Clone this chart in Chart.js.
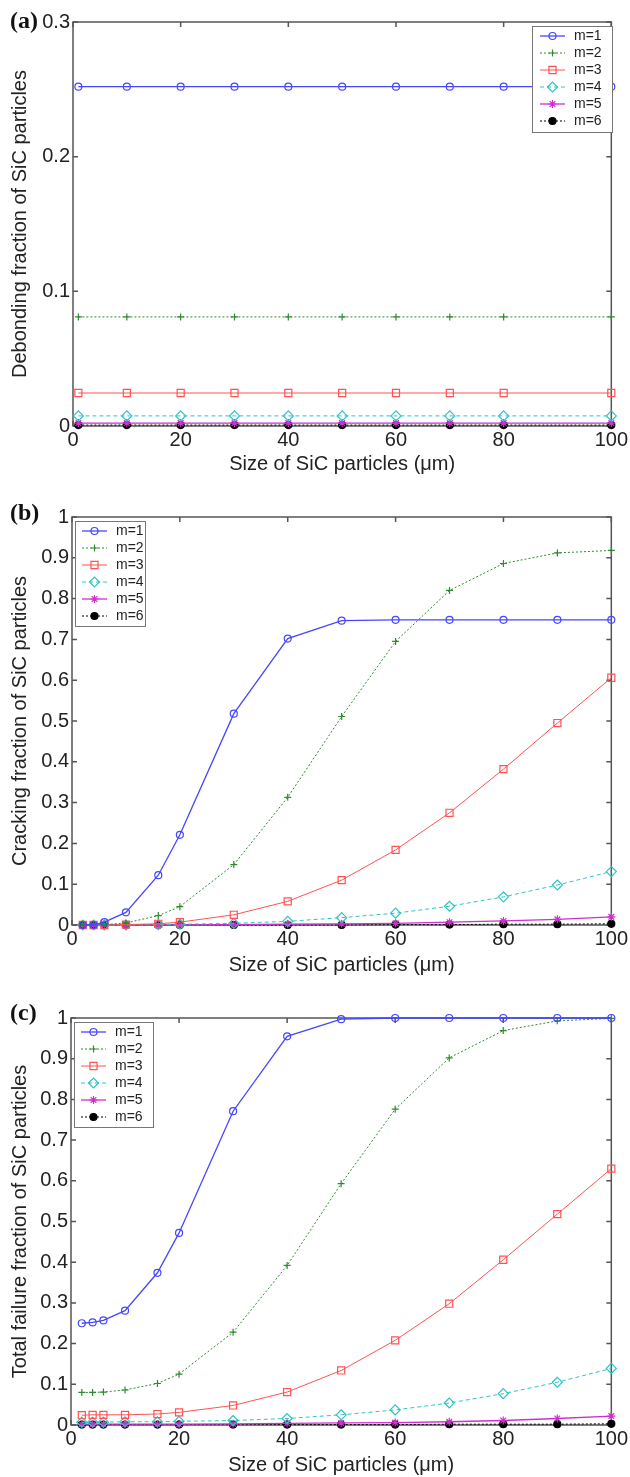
<!DOCTYPE html>
<html>
<head>
<meta charset="utf-8">
<script src="https://cdn.jsdelivr.net/npm/chart.js@4.4.1/dist/chart.umd.min.js"></script>
<style>
  body { margin: 0; background: #fff; }
  canvas { display: block; }
</style>
</head>
<body>
<canvas id="chartA" width="630" height="478"></canvas>
<canvas id="chartB" width="630" height="500"></canvas>
<canvas id="chartC" width="630" height="499"></canvas>
<script>
// series names
var seriesNames = ['m=1', 'm=2', 'm=3', 'm=4', 'm=5', 'm=6'];

// particle sizes (um)
var sizeA = [1, 10, 20, 30, 40, 50, 60, 70, 80, 100];
var sizeBC = [2, 4, 6, 10, 16, 20, 30, 40, 50, 60, 70, 80, 90, 100];

// (a) debonding fraction
var debondM1 = [0.252, 0.252, 0.252, 0.252, 0.252, 0.252, 0.252, 0.252, 0.252, 0.252];
var debondM2 = [0.081, 0.081, 0.081, 0.081, 0.081, 0.081, 0.081, 0.081, 0.081, 0.081];
var debondM3 = [0.0245, 0.0245, 0.0245, 0.0245, 0.0245, 0.0245, 0.0245, 0.0245, 0.0245, 0.0245];
var debondM4 = [0.0075, 0.0075, 0.0075, 0.0075, 0.0075, 0.0075, 0.0075, 0.0075, 0.0075, 0.0075];
var debondM5 = [0.0022, 0.0022, 0.0022, 0.0022, 0.0022, 0.0022, 0.0022, 0.0022, 0.0022, 0.0022];
var debondM6 = [0.0007, 0.0007, 0.0007, 0.0007, 0.0007, 0.0007, 0.0007, 0.0007, 0.0007, 0.0007];

// (b) cracking fraction
var crackM1 = [0, 0, 0.007, 0.031, 0.122, 0.221, 0.518, 0.702, 0.746, 0.748, 0.748, 0.748, 0.748, 0.748];
var crackM2 = [0, 0, 0.001, 0.005, 0.023, 0.045, 0.148, 0.313, 0.511, 0.695, 0.820, 0.886, 0.912, 0.918];
var crackM3 = [0, 0, 0, 0.001, 0.003, 0.007, 0.025, 0.058, 0.110, 0.184, 0.275, 0.382, 0.495, 0.606];
var crackM4 = [0, 0, 0, 0, 0.001, 0.002, 0.004, 0.009, 0.018, 0.029, 0.046, 0.069, 0.098, 0.131];
var crackM5 = [0, 0, 0, 0, 0, 0, 0.001, 0.002, 0.003, 0.004, 0.007, 0.010, 0.014, 0.020];
var crackM6 = [0, 0, 0, 0, 0, 0, 0, 0, 0, 0.001, 0.001, 0.002, 0.002, 0.003];

// (c) total failure fraction
var totalM1 = [0.250, 0.252, 0.257, 0.281, 0.374, 0.472, 0.771, 0.955, 0.997, 1.0, 1.0, 1.0, 1.0, 1.0];
var totalM2 = [0.080, 0.080, 0.081, 0.086, 0.102, 0.125, 0.228, 0.392, 0.593, 0.776, 0.902, 0.969, 0.993, 0.999];
var totalM3 = [0.024, 0.025, 0.025, 0.025, 0.027, 0.031, 0.048, 0.081, 0.134, 0.208, 0.298, 0.406, 0.518, 0.630];
var totalM4 = [0.007, 0.007, 0.007, 0.008, 0.008, 0.009, 0.011, 0.016, 0.025, 0.037, 0.054, 0.077, 0.105, 0.139];
var totalM5 = [0.002, 0.002, 0.002, 0.002, 0.002, 0.002, 0.003, 0.004, 0.005, 0.006, 0.008, 0.011, 0.016, 0.022];
var totalM6 = [0.001, 0.001, 0.001, 0.001, 0.001, 0.001, 0.001, 0.001, 0.001, 0.001, 0.002, 0.002, 0.002, 0.003];

// styles (MATLAB-ish)
var lineColors = ['#4646ff', '#2e8b2e', '#ff5252', '#2ec4c4', '#d02ed0', '#000000'];
var lineWidths = [1.3, 1, 1, 1, 1.3, 1];
var lineDashes = [[], [2, 2], [], [4, 3], [], [2, 2]];
var markers = ['circle', 'cross', 'rect', 'rectRot', 'star', 'circle'];
var markerSize = [3.5, 3.5, 5, 5, 4, 3.5];
var markerFill = ['rgba(0,0,0,0)', 'rgba(0,0,0,0)', 'rgba(0,0,0,0)', 'rgba(0,0,0,0)', '#d02ed0', '#000000'];

var FONT = '"Liberation Sans", Arial, sans-serif';
var xTitle = 'Size of SiC particles (\u03bcm)';

// box + inward ticks on all four sides
var boxPlugin = {
  id: 'matlabBox',
  beforeDatasetsDraw: function (chart) {
    var ctx = chart.ctx, a = chart.chartArea, x = chart.scales.x, y = chart.scales.y;
    ctx.save();
    ctx.strokeStyle = '#555';
    ctx.lineWidth = 1.5;
    ctx.strokeRect(a.left, a.top, a.right - a.left, a.bottom - a.top);
    ctx.beginPath();
    x.ticks.forEach(function (t) {
      var px = x.getPixelForValue(t.value);
      ctx.moveTo(px, a.bottom); ctx.lineTo(px, a.bottom - 5);
      ctx.moveTo(px, a.top); ctx.lineTo(px, a.top + 5);
    });
    y.ticks.forEach(function (t) {
      var py = y.getPixelForValue(t.value);
      ctx.moveTo(a.left, py); ctx.lineTo(a.left + 5, py);
      ctx.moveTo(a.right, py); ctx.lineTo(a.right - 5, py);
    });
    ctx.stroke();
    ctx.restore();
  }
};

var legendPlugin = {
  id: 'panelLegend',
  afterDraw: function (chart, args, o) {
    var ctx = chart.ctx;
    ctx.save();
    ctx.fillStyle = '#fff';
    ctx.fillRect(o.x, o.y, o.w, o.h);
    ctx.strokeStyle = '#777';
    ctx.lineWidth = 1;
    ctx.strokeRect(o.x + 0.5, o.y + 0.5, o.w, o.h);
    ctx.font = '14px ' + FONT;
    ctx.textBaseline = 'middle';
    ctx.textAlign = 'left';
    chart.data.datasets.forEach(function (ds, i) {
      var cy = o.y + o.first + i * o.row;
      ctx.strokeStyle = ds.borderColor;
      ctx.lineWidth = ds.borderWidth;
      ctx.setLineDash(ds.borderDash);
      ctx.beginPath();
      ctx.moveTo(o.lx0, cy); ctx.lineTo(o.lx1, cy);
      ctx.stroke();
      ctx.setLineDash([]);
      ctx.fillStyle = ds.pointBackgroundColor;
      ctx.strokeStyle = ds.pointBorderColor;
      ctx.lineWidth = ds.pointBorderWidth;
      Chart.helpers.drawPoint(ctx, { pointStyle: ds.pointStyle, radius: ds.pointRadius, borderWidth: ds.pointBorderWidth, rotation: 0 }, (o.lx0 + o.lx1) / 2, cy);
      ctx.fillStyle = '#222';
      ctx.fillText(ds.label, o.tx, cy);
    });
    ctx.restore();
  }
};

var tagPlugin = {
  id: 'panelTag',
  afterDraw: function (chart, args, o) {
    var ctx = chart.ctx;
    ctx.save();
    ctx.font = 'bold 24px "Liberation Serif", "Times New Roman", serif';
    ctx.fillStyle = '#111';
    ctx.textBaseline = 'middle';
    ctx.fillText(o.text, o.x, o.y);
    ctx.restore();
  }
};

function makeChart(id, cfg) {
  var ctx = document.getElementById(id).getContext('2d');
  var H = ctx.canvas.height;
  var sets = cfg.sets.map(function (ys, i) {
    return {
      label: seriesNames[i],
      data: cfg.xs.map(function (x, j) { return { x: x, y: ys[j] }; }),
      borderColor: lineColors[i],
      borderWidth: lineWidths[i],
      borderDash: lineDashes[i],
      pointStyle: markers[i],
      pointRadius: markerSize[i],
      pointHoverRadius: markerSize[i],
      pointBorderColor: lineColors[i],
      pointBackgroundColor: markerFill[i],
      pointBorderWidth: 1.2,
      fill: false,
      tension: 0,
      clip: false
    };
  });
  return new Chart(ctx, {
    type: 'line',
    data: { datasets: sets },
    options: {
      responsive: false,
      animation: false,
      events: [],
      layout: { padding: { top: cfg.area.top, right: 630 - cfg.area.right, left: 0, bottom: 0 } },
      scales: {
        x: {
          type: 'linear', min: 0, max: 100,
          ticks: { stepSize: 20, padding: 2, color: '#222', font: { family: FONT, size: 20 } },
          grid: { display: false, drawTicks: false },
          border: { display: false },
          title: { display: true, text: xTitle, color: '#222', font: { family: FONT, size: 20 }, padding: { top: 0, bottom: cfg.xTitlePad } },
          afterFit: function (s) { s.height = H - cfg.area.bottom; }
        },
        y: {
          type: 'linear', min: 0, max: cfg.yMax,
          ticks: {
            stepSize: 0.1, padding: 3, color: '#222', font: { family: FONT, size: 20 },
            callback: function (v) { return String(+v.toFixed(2)); }
          },
          grid: { display: false, drawTicks: false },
          border: { display: false },
          title: { display: true, text: cfg.yTitle, color: '#222', font: { family: FONT, size: 20 }, padding: { top: 8, bottom: 0 } },
          afterFit: function (s) { s.width = cfg.area.left; }
        }
      },
      plugins: {
        legend: { display: false },
        tooltip: { enabled: false },
        panelLegend: cfg.legend,
        panelTag: cfg.tag
      }
    },
    plugins: [boxPlugin, legendPlugin, tagPlugin]
  });
}

makeChart('chartA', {
  xs: sizeA,
  sets: [debondM1, debondM2, debondM3, debondM4, debondM5, debondM6],
  yMax: 0.3,
  yTitle: 'Debonding fraction of SiC particles',
  area: { left: 73, right: 614, top: 22, bottom: 426 },
  xTitlePad: 2,
  legend: { x: 532, y: 26, w: 80, h: 106, first: 10, row: 17, lx0: 540, lx1: 565, tx: 574 },
  tag: { text: '(a)', x: 10, y: 22 }
});

makeChart('chartB', {
  xs: sizeBC,
  sets: [crackM1, crackM2, crackM3, crackM4, crackM5, crackM6],
  yMax: 1,
  yTitle: 'Cracking fraction of SiC particles',
  area: { left: 72, right: 615, top: 39, bottom: 447 },
  xTitlePad: 1,
  legend: { x: 75, y: 43, w: 70, h: 105, first: 10, row: 17, lx0: 82, lx1: 107, tx: 116 },
  tag: { text: '(b)', x: 10, y: 36 }
});

makeChart('chartC', {
  xs: sizeBC,
  sets: [totalM1, totalM2, totalM3, totalM4, totalM5, totalM6],
  yMax: 1,
  yTitle: 'Total failure fraction of SiC particles',
  area: { left: 71, right: 615, top: 40, bottom: 447 },
  xTitlePad: 0,
  legend: { x: 74, y: 44, w: 79, h: 105, first: 10, row: 17, lx0: 81, lx1: 106, tx: 115 },
  tag: { text: '(c)', x: 10, y: 36 }
});
</script>
</body>
</html>
